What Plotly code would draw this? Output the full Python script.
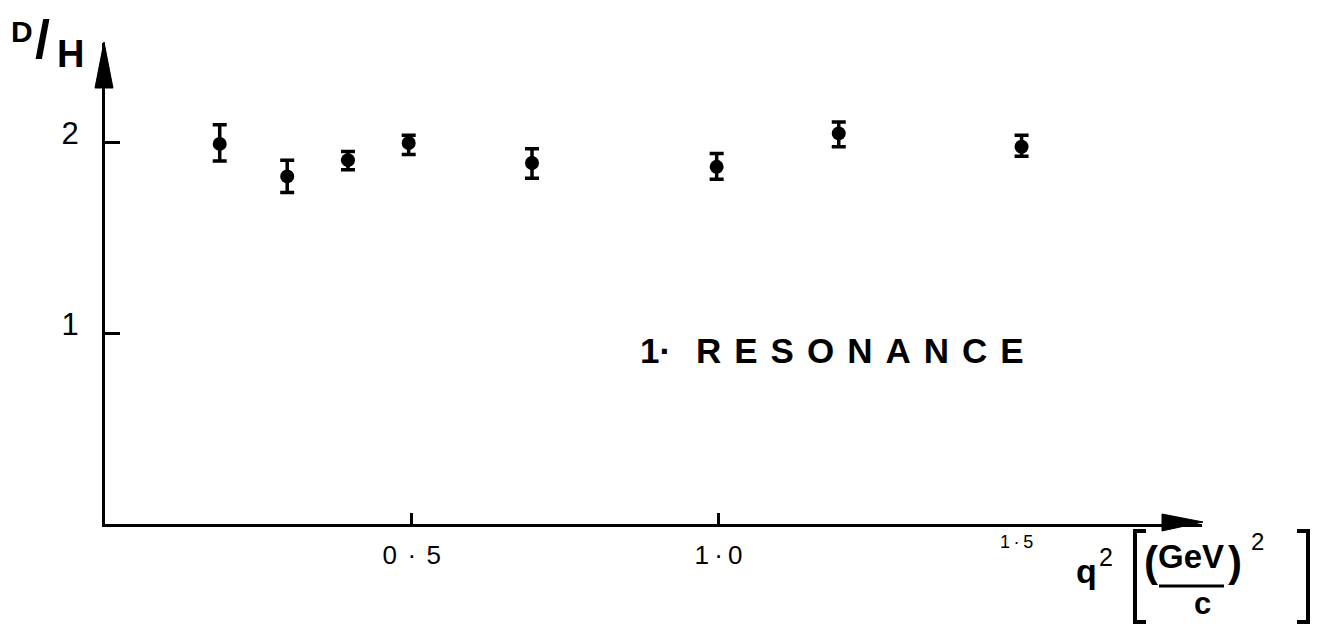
import plotly.graph_objects as go

# ---- data ----
q2 = [0.187, 0.297, 0.396, 0.495, 0.696, 0.997, 1.196, 1.494]
ratio_dh = [1.99, 1.82, 1.905, 1.995, 1.89, 1.87, 2.045, 1.975]
err_plus = [0.10, 0.085, 0.045, 0.04, 0.075, 0.07, 0.06, 0.06]
err_minus = [0.09, 0.085, 0.05, 0.06, 0.08, 0.065, 0.07, 0.05]
x_tick_vals = [0.5, 1.0]
x_tick_text = ["0\u2009\u2009·\u2009\u20095", "1\u2009·\u20090"]
y_tick_vals = [1, 2]
y_tick_text = ["1", "2"]

W, H = 1321, 628
L, R, T, B = 105, 1202, 43, 524  # plot area in pixels
PW, PH = R - L, B - T
XSCALE, YSCALE = 613.5, 191.0


def px(x):
    return (x - L) / PW


def py(y):
    return (B - y) / PH


fig = go.Figure()
fig.add_trace(go.Scatter(
    x=q2, y=ratio_dh, mode="markers",
    marker=dict(color="black", size=14, symbol="circle"),
    error_y=dict(type="data", symmetric=False, array=err_plus, arrayminus=err_minus,
                 color="black", thickness=3.5, width=7),
    showlegend=False, hoverinfo="x+y",
))

font_main = "Liberation Sans, Arial, sans-serif"

fig.update_layout(
    width=W, height=H,
    margin=dict(l=L, r=W - R, t=T, b=H - B, pad=0),
    paper_bgcolor="white", plot_bgcolor="white",
    xaxis=dict(range=[0, PW / XSCALE], showgrid=False, zeroline=False,
               showline=True, linecolor="black", linewidth=3,
               tickmode="array", tickvals=x_tick_vals, ticktext=x_tick_text,
               ticks="inside", ticklen=11, tickwidth=3, tickcolor="black",
               tickfont=dict(family=font_main, size=26, color="black"),
               ticklabelstandoff=6),
    yaxis=dict(range=[0, PH / YSCALE], showgrid=False, zeroline=False,
               showline=True, linecolor="black", linewidth=3,
               tickmode="array", tickvals=y_tick_vals, ticktext=y_tick_text,
               ticks="inside", ticklen=15, tickwidth=3, tickcolor="black",
               tickfont=dict(family=font_main, size=31, color="black"),
               ticklabelstandoff=17, ticklabelshift=-9),
)


def path(points, close=False):
    s = "M " + " L ".join(f"{px(a):.5f},{py(b):.5f}" for a, b in points)
    return s + (" Z" if close else "")


shapes = []
# arrowheads
shapes.append(dict(type="path", xref="paper", yref="paper",
                   path=path([(104, 42), (95, 88), (113, 88)], close=True),
                   fillcolor="black", line=dict(color="black", width=1)))
shapes.append(dict(type="path", xref="paper", yref="paper",
                   path=path([(1203, 522), (1162, 514), (1162, 531)], close=True),
                   fillcolor="black", line=dict(color="black", width=1)))
# brackets of the unit
shapes.append(dict(type="path", xref="paper", yref="paper",
                   path=path([(1146, 531), (1135, 531), (1135, 622), (1146, 622)]),
                   line=dict(color="black", width=4)))
shapes.append(dict(type="path", xref="paper", yref="paper",
                   path=path([(1297, 531), (1308, 531), (1308, 622), (1297, 622)]),
                   line=dict(color="black", width=4)))
# fraction bar under GeV
shapes.append(dict(type="line", xref="paper", yref="paper",
                   x0=px(1159), x1=px(1224), y0=py(586), y1=py(586),
                   line=dict(color="black", width=3)))
fig.update_layout(shapes=shapes)


def ann(text, x, y, size, bold=True, xanchor="center", yanchor="middle"):
    fig.add_annotation(text=f"<b>{text}</b>" if bold else text,
                       xref="paper", yref="paper", x=px(x), y=py(y),
                       xanchor=xanchor, yanchor=yanchor, showarrow=False,
                       font=dict(family=font_main, size=size, color="black"))


# y-axis label D/H
ann("D", 22, 32, 30)
ann("/", 42, 39, 54)
ann("H", 70, 54, 38)

# resonance label
ann("1·", 655, 350, 35)
ann('<span style="letter-spacing:13px">RESONANCE</span>', 866, 350, 35)

# x-axis label
ann("1\u2009·\u20095", 1016, 542, 18, bold=False)
ann("q", 1086, 571, 34)
ann("2", 1106, 557, 25, bold=False)
ann("(", 1151, 561, 42)
ann("GeV", 1191, 556, 33)
ann(")", 1235, 561, 42)
ann("2", 1257, 541, 24, bold=False)
ann("c", 1202, 603, 31)

fig.write_html("out.html", config={"displayModeBar": False},
               post_script="document.body.style.margin='0px';")
